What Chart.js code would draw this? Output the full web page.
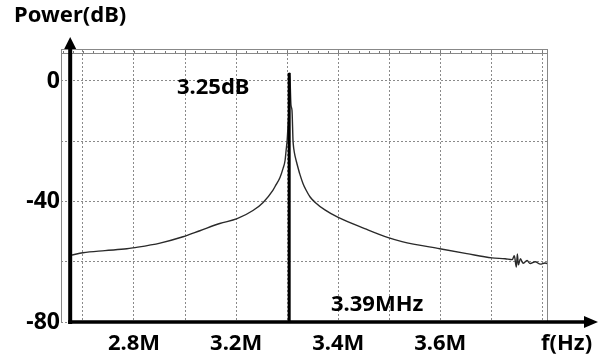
<!DOCTYPE html>
<html>
<head>
<meta charset="utf-8">
<script src="https://cdn.jsdelivr.net/npm/chart.js@4"></script>
<style>
  html, body { margin: 0; padding: 0; background: #fff; }
  #wrap { width: 609px; height: 360px; }
</style>
</head>
<body>
<div id="wrap"><canvas id="powerChart"></canvas></div>
<script>
// x is in screen divisions of the scope grid, y in dB
var freqDiv = [-0.22, 0, 0.43, 0.86, 0.98, 1.51, 1.96, 2.29, 2.68, 3.02, 3.33, 3.53, 3.72, 3.78, 3.86, 3.92, 3.96, 3.98, 4.0, 4.02, 4.035,
               4.05, 4.075, 4.095, 4.115, 4.13, 4.16, 4.19, 4.25, 4.31, 4.37, 4.45, 4.55, 4.74, 5.0, 5.52, 5.98, 6.25, 6.99, 7.52, 8.01, 8.27,
               8.41, 8.45, 8.49, 8.51, 8.53, 8.57, 8.62, 8.70, 8.76, 8.86, 8.96, 9.05, 9.15];
var powerDb = [-57.8, -57.0, -56.3, -55.7, -55.4, -53.8, -51.7, -49.7, -47.3, -45.7, -43.0, -40.3, -36.3, -34.5, -32.0, -29.0, -26.3, -23.0, -19.7, -14.0, -9.7,
               2.7, -8.0, -9.7, -19.7, -22.5, -25.3, -27.3, -31.0, -34.0, -36.2, -38.5, -40.3, -42.8, -45.3, -49.0, -52.0, -53.3, -55.7, -57.3, -58.7, -59.0,
               -59.3, -58.0, -61.8, -57.4, -61.0, -59.0, -60.5, -59.6, -60.6, -60.0, -60.8, -60.4, -61.0];

var peakDiv = 4.04;
var peakTopDb = 2.7;
var yAxisAtDiv = -0.25;

var xTickPos = [1, 3, 5, 7];
var xTickText = ['2.8M', '3.2M', '3.4M', '3.6M'];
var yGridVals = [-80, -60, -40, -20, 0];
var yTickText = ['-80', '', '-40', '', '0'];

var curve = freqDiv.map(function (x, i) { return { x: x, y: powerDb[i] }; });

var FONT = '"Noto Sans", "DejaVu Sans", sans-serif';

var decoPlugin = {
    id: 'deco',
    afterDraw: function (chart) {
        var ctx = chart.ctx;
        var a = chart.chartArea;
        var xs = chart.scales.x, ys = chart.scales.y;
        ctx.save();

        // scope frame + top ruler
        ctx.strokeStyle = '#888';
        ctx.lineWidth = 1;
        ctx.beginPath();
        ctx.moveTo(a.left + 0.5, a.top); ctx.lineTo(a.left + 0.5, a.bottom);
        ctx.moveTo(a.right - 0.5, a.top); ctx.lineTo(a.right - 0.5, a.bottom);
        ctx.moveTo(a.left, a.top - 0.5); ctx.lineTo(a.right, a.top - 0.5);
        ctx.moveTo(a.left, a.top + 3.5); ctx.lineTo(a.right, a.top + 3.5);
        ctx.stroke();
        ctx.fillStyle = '#777';
        for (var v = -0.4; v <= 9.1; v += 0.2) {
            var px = Math.round(xs.getPixelForValue(v));
            ctx.fillRect(px, a.top + 1, 1, 2);
        }

        // thick axes with arrows
        ctx.strokeStyle = '#000';
        ctx.fillStyle = '#000';
        ctx.lineWidth = 4;
        var ax = xs.getPixelForValue(yAxisAtDiv);
        var ay = ys.getPixelForValue(-80);
        ctx.beginPath();
        ctx.moveTo(ax, ay + 2); ctx.lineTo(ax, 46);
        ctx.stroke();
        ctx.beginPath();
        ctx.moveTo(ax, 37); ctx.lineTo(ax - 6, 49); ctx.lineTo(ax + 6, 49); ctx.closePath();
        ctx.fill();

        ctx.lineWidth = 3.5;
        ctx.beginPath();
        ctx.moveTo(ax - 2, ay); ctx.lineTo(586, ay);
        ctx.stroke();
        ctx.beginPath();
        ctx.moveTo(598, ay); ctx.lineTo(584, ay - 6); ctx.lineTo(584, ay + 6); ctx.closePath();
        ctx.fill();

        // texts
        ctx.font = 'bold 22px ' + FONT;
        ctx.textBaseline = 'middle';
        ctx.textAlign = 'left';
        ctx.fillText('Power(dB)', 14, 16);
        ctx.fillText('3.25dB', 177, 88);
        ctx.fillText('3.39MHz', 331, 305);
        ctx.fillText('f(Hz)', 541, 344);
        ctx.restore();
    }
};

var ctx = document.getElementById('powerChart').getContext('2d');
new Chart(ctx, {
    type: 'line',
    data: {
        datasets: [{
            data: curve,
            borderColor: '#2a2a2a',
            borderWidth: 1.4,
            pointRadius: 0,
            cubicInterpolationMode: 'monotone',
            order: 2
        }, {
            data: [{ x: peakDiv, y: -80 }, { x: peakDiv, y: peakTopDb }],
            borderColor: '#000',
            borderWidth: 3,
            pointRadius: 0,
            order: 1
        }]
    },
    options: {
        responsive: true,
        maintainAspectRatio: false,
        animation: false,
        layout: { padding: { top: 50, right: 61, left: 0, bottom: 0 } },
        plugins: { legend: { display: false }, tooltip: { enabled: false } },
        scales: {
            x: {
                type: 'linear',
                min: -0.43,
                max: 9.11,
                afterBuildTicks: function (scale) {
                    var t = [];
                    for (var i = 0; i <= 9; i++) t.push({ value: i });
                    scale.ticks = t;
                },
                afterFit: function (scale) { scale.height = 38; },
                ticks: {
                    padding: 9,
                    autoSkip: false,
                    maxRotation: 0,
                    minRotation: 0,
                    color: '#000',
                    font: { family: FONT, size: 22, weight: 'bold' },
                    callback: function (value) {
                        var k = xTickPos.indexOf(value);
                        return k >= 0 ? xTickText[k] : '';
                    }
                },
                grid: { color: '#8a8a8a', lineWidth: 1, drawTicks: false },
                border: { display: false, dash: [2, 2] }
            },
            y: {
                min: -80,
                max: 10.29,
                afterBuildTicks: function (scale) {
                    scale.ticks = yGridVals.map(function (v) { return { value: v }; });
                },
                afterFit: function (scale) { scale.width = 61; },
                ticks: {
                    padding: 1,
                    color: '#000',
                    font: { family: FONT, size: 23, weight: 'bold' },
                    callback: function (value) {
                        var k = yGridVals.indexOf(value);
                        return k >= 0 ? yTickText[k] : '';
                    }
                },
                grid: { color: '#8a8a8a', lineWidth: 1, drawTicks: false },
                border: { display: false, dash: [2, 2] }
            }
        }
    },
    plugins: [decoPlugin]
});
</script>
</body>
</html>
